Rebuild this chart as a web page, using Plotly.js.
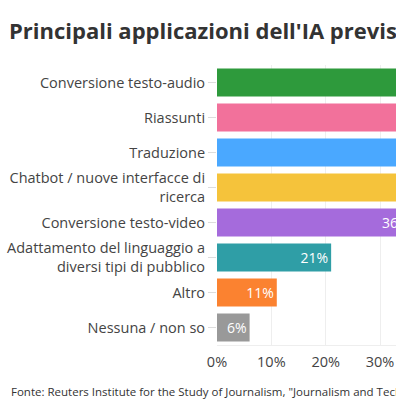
<!DOCTYPE html>
<html>
<head>
<meta charset="utf-8">
<script src="https://cdn.plot.ly/plotly-3.0.1.min.js"></script>
<style>
html,body{margin:0;padding:0;overflow:hidden;background:#fff;width:396px;height:406px;}
#chart{width:700px;height:406px;}
</style>
</head>
<body>
<div id="chart"></div>
<script>
// Categories (top to bottom)
const categories = [
  "Conversione testo-audio",
  "Riassunti",
  "Traduzione",
  "Chatbot / nuove interfacce di<br>ricerca",
  "Conversione testo-video",
  "Adattamento del linguaggio a<br>diversi tipi di pubblico",
  "Altro",
  "Nessuna / non so"
];
// Values in percent (top four are off-picture; estimated)
const values = [75, 70, 65, 56, 36, 21, 11, 6];
const barColors = ["#2e9a3c", "#f2719b", "#4aa8ff", "#f5c33b", "#a56bdc", "#2f9ea6", "#fb8230", "#999999"];
const xTickVals = [0, 10, 20, 30, 40, 50, 60, 70, 80];
const xTickText = ["0%", "10%", "20%", "30%", "40%", "50%", "60%", "70%", "80%"];

const W = 700, H = 406;
const mL = 217, mT = 65, mB = 61;
const pxPer10 = 54.3;
const xMax = 85;
const plotW = pxPer10 * xMax / 10;
const mR = W - mL - plotW;
const plotH = H - mT - mB;

const trace = {
  type: "bar",
  orientation: "h",
  y: categories,
  x: values,
  marker: {color: barColors},
  text: values.map(v => v + "%"),
  textposition: "inside",
  insidetextanchor: "end",
  textfont: {color: "#ffffff", size: 14, family: "Open Sans, sans-serif"},
  hoverinfo: "none",
  cliponaxis: true
};

const layout = {
  width: W, height: H,
  margin: {l: mL, r: mR, t: mT, b: mB, pad: 0},
  paper_bgcolor: "#ffffff",
  plot_bgcolor: "#ffffff",
  font: {family: "Open Sans, sans-serif", color: "#444444", size: 14},
  bargap: 0.2,
  showlegend: false,
  title: {
    text: "<b>Principali applicazioni dell'IA previste dalle redazioni</b>",
    font: {size: 22, color: "#333333", family: "Open Sans, sans-serif"},
    x: 9 / W, xref: "container", xanchor: "left",
    y: 1 - 31 / H, yref: "container", yanchor: "middle"
  },
  xaxis: {
    range: [0, xMax],
    tickvals: xTickVals,
    ticktext: xTickText,
    showgrid: true,
    gridcolor: "#eeeeee",
    gridwidth: 1,
    zeroline: false,
    showline: true,
    linecolor: "#eeeeee",
    ticks: "outside",
    ticklen: 4,
    tickcolor: "rgba(0,0,0,0)",
    tickfont: {size: 14.5, color: "#444444"},
    fixedrange: true
  },
  yaxis: {
    categoryorder: "array",
    categoryarray: categories.slice().reverse(),
    ticks: "outside",
    ticklen: 8,
    tickcolor: "#dddddd",
    tickfont: {size: 14.5, color: "#444444"},
    showgrid: false,
    zeroline: false,
    showline: false,
    fixedrange: true
  },
  annotations: [{
    text: "Fonte: Reuters Institute for the Study of Journalism, \"Journalism and Technology Trends and Predictions\"",
    xref: "paper", yref: "paper",
    x: (9 - mL) / plotW, xanchor: "left",
    y: -(391 - (mT + plotH)) / plotH, yanchor: "middle",
    showarrow: false,
    font: {size: 11.5, color: "#333333", family: "Open Sans, sans-serif"},
    align: "left"
  }]
};

Plotly.newPlot("chart", [trace], layout, {displayModeBar: false, staticPlot: true});
</script>
</body>
</html>
